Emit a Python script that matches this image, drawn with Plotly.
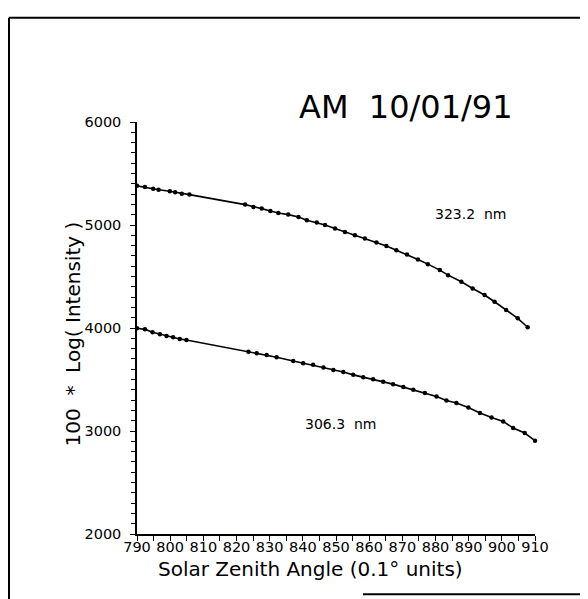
import plotly.graph_objects as go

# Upper series: 323.2 nm
x_323 = [790, 792.4, 794.9, 796.5, 799.9, 801.5, 803.5, 805.8, 822.6, 825.1, 827.6, 830.2,
         832.6, 835.6, 838.7, 841.2, 844.2, 846.7, 849.7, 852.7, 855.7, 858.7, 862.2,
         865.2, 868.2, 871.4, 874.7, 877.7, 881.3, 883.8, 887.8, 891.2, 894.8, 897.8,
         901.3, 904.8, 907.8]
y_323 = [5380, 5369, 5353, 5343, 5327, 5317, 5304, 5295, 5198, 5175, 5159, 5136,
         5117, 5101, 5078, 5046, 5024, 5000, 4966, 4933, 4901, 4869, 4830,
         4797, 4755, 4714, 4665, 4620, 4562, 4513, 4449, 4384, 4320, 4255,
         4174, 4094, 4007]

# Lower series: 306.3 nm
x_306 = [790, 792.4, 794.7, 796.9, 798.9, 800.9, 802.9, 804.9, 823.6, 826.1, 829.1, 832.1,
         837.1, 840.1, 843.1, 846.2, 849.2, 852.2, 855.2, 858.2, 861.2, 864.2, 867.2,
         870.3, 873.3, 876.8, 880.3, 883.3, 886.3, 889.9, 893.4, 896.9, 900.4, 903.4,
         906.9, 910]
y_306 = [3997, 3987, 3958, 3939, 3922, 3910, 3893, 3884, 3770, 3755, 3738, 3716,
         3680, 3658, 3642, 3616, 3593, 3572, 3545, 3522, 3503, 3477, 3455,
         3426, 3400, 3368, 3335, 3296, 3271, 3228, 3174, 3131, 3093, 3029,
         2980, 2906]

x_tickvals = list(range(790, 911, 10))
y_tickvals = [2000, 3000, 4000, 5000, 6000]

title_text = "AM\u00a0\u00a010/01/91"
label_323 = "323.2\u00a0\u00a0nm"
label_306 = "306.3\u00a0\u00a0nm"
x_title = "Solar\u00a0Zenith\u00a0Angle\u00a0(0.1°\u00a0units)"
y_title = "100\u00a0\u00a0*\u00a0\u00a0Log(\u00a0Intensity\u00a0)"

FONT = "DejaVu Sans"

# figure is placed 8px in from the window's top-left corner
W, H = 580, 591
L, R, T, B = 129, 527, 113.5, 526.5
pw, ph = R - L, B - T


def px(xpix):
    return (xpix - 8 - L) / pw


def py(ypix):
    return (B - (ypix - 8)) / ph


fig = go.Figure()
for xs, ys in [(x_323, y_323), (x_306, y_306)]:
    fig.add_trace(go.Scatter(
        x=xs, y=ys, mode="lines+markers",
        line=dict(color="black", width=1.6),
        marker=dict(color="black", size=4.5),
        showlegend=False, cliponaxis=False,
    ))

fig.update_layout(
    width=W, height=H,
    margin=dict(l=L, r=W - R, t=T, b=H - B, pad=0),
    paper_bgcolor="white", plot_bgcolor="white",
    font=dict(family=FONT, color="black", size=14),
    xaxis=dict(
        range=[790, 910], tickvals=x_tickvals, ticktext=[str(v) for v in x_tickvals],
        showgrid=False, zeroline=False, showline=True, linecolor="black", linewidth=1.5,
        ticks="outside", ticklen=5, tickwidth=1.2, tickcolor="black",
        minor=dict(dtick=5, tick0=790, ticks="outside", ticklen=5, tickwidth=1.2, tickcolor="black"),
        tickfont=dict(size=14.5, family=FONT),
        ticklabelstandoff=-6,
    ),
    yaxis=dict(
        range=[2000, 6000], tickvals=y_tickvals, ticktext=[str(v) for v in y_tickvals],
        showgrid=False, zeroline=False, showline=True, linecolor="black", linewidth=1.5,
        ticks="outside", ticklen=5, tickwidth=1.2, tickcolor="black",
        minor=dict(dtick=100, tick0=2000, ticks="outside", ticklen=4, tickwidth=1, tickcolor="black"),
        tickfont=dict(size=14.5, family=FONT),
        ticklabelstandoff=6,
    ),
)

annotations = [
    dict(text=title_text, x=px(406), y=py(106), xref="paper", yref="paper",
         showarrow=False, font=dict(size=32, family=FONT), xanchor="center", yanchor="middle"),
    dict(text=label_323, x=890.7, y=5104, xref="x", yref="y",
         showarrow=False, font=dict(size=14, family=FONT), xanchor="center", yanchor="middle"),
    dict(text=label_306, x=851.5, y=3070, xref="x", yref="y",
         showarrow=False, font=dict(size=14, family=FONT), xanchor="center", yanchor="middle"),
    dict(text=x_title, x=px(310.5), y=py(570), xref="paper", yref="paper",
         showarrow=False, font=dict(size=20, family=FONT), xanchor="center", yanchor="middle"),
    dict(text=y_title, x=px(73), y=py(334.5), xref="paper", yref="paper", textangle=-90,
         showarrow=False, font=dict(size=20, family=FONT), xanchor="center", yanchor="middle"),
]
fig.update_layout(annotations=annotations)

# Page frame lines (scanned figure border)
shapes = [
    dict(type="line", xref="paper", yref="paper", x0=px(9), x1=px(600), y0=py(17), y1=py(17),
         line=dict(color="black", width=2)),
    dict(type="line", xref="paper", yref="paper", x0=px(9), x1=px(9), y0=py(17), y1=py(610),
         line=dict(color="black", width=2)),
    dict(type="line", xref="paper", yref="paper", x0=px(363), x1=px(600), y0=py(595), y1=py(595),
         line=dict(color="black", width=2)),
]
fig.update_layout(shapes=shapes)

fig.write_html("out.html")
